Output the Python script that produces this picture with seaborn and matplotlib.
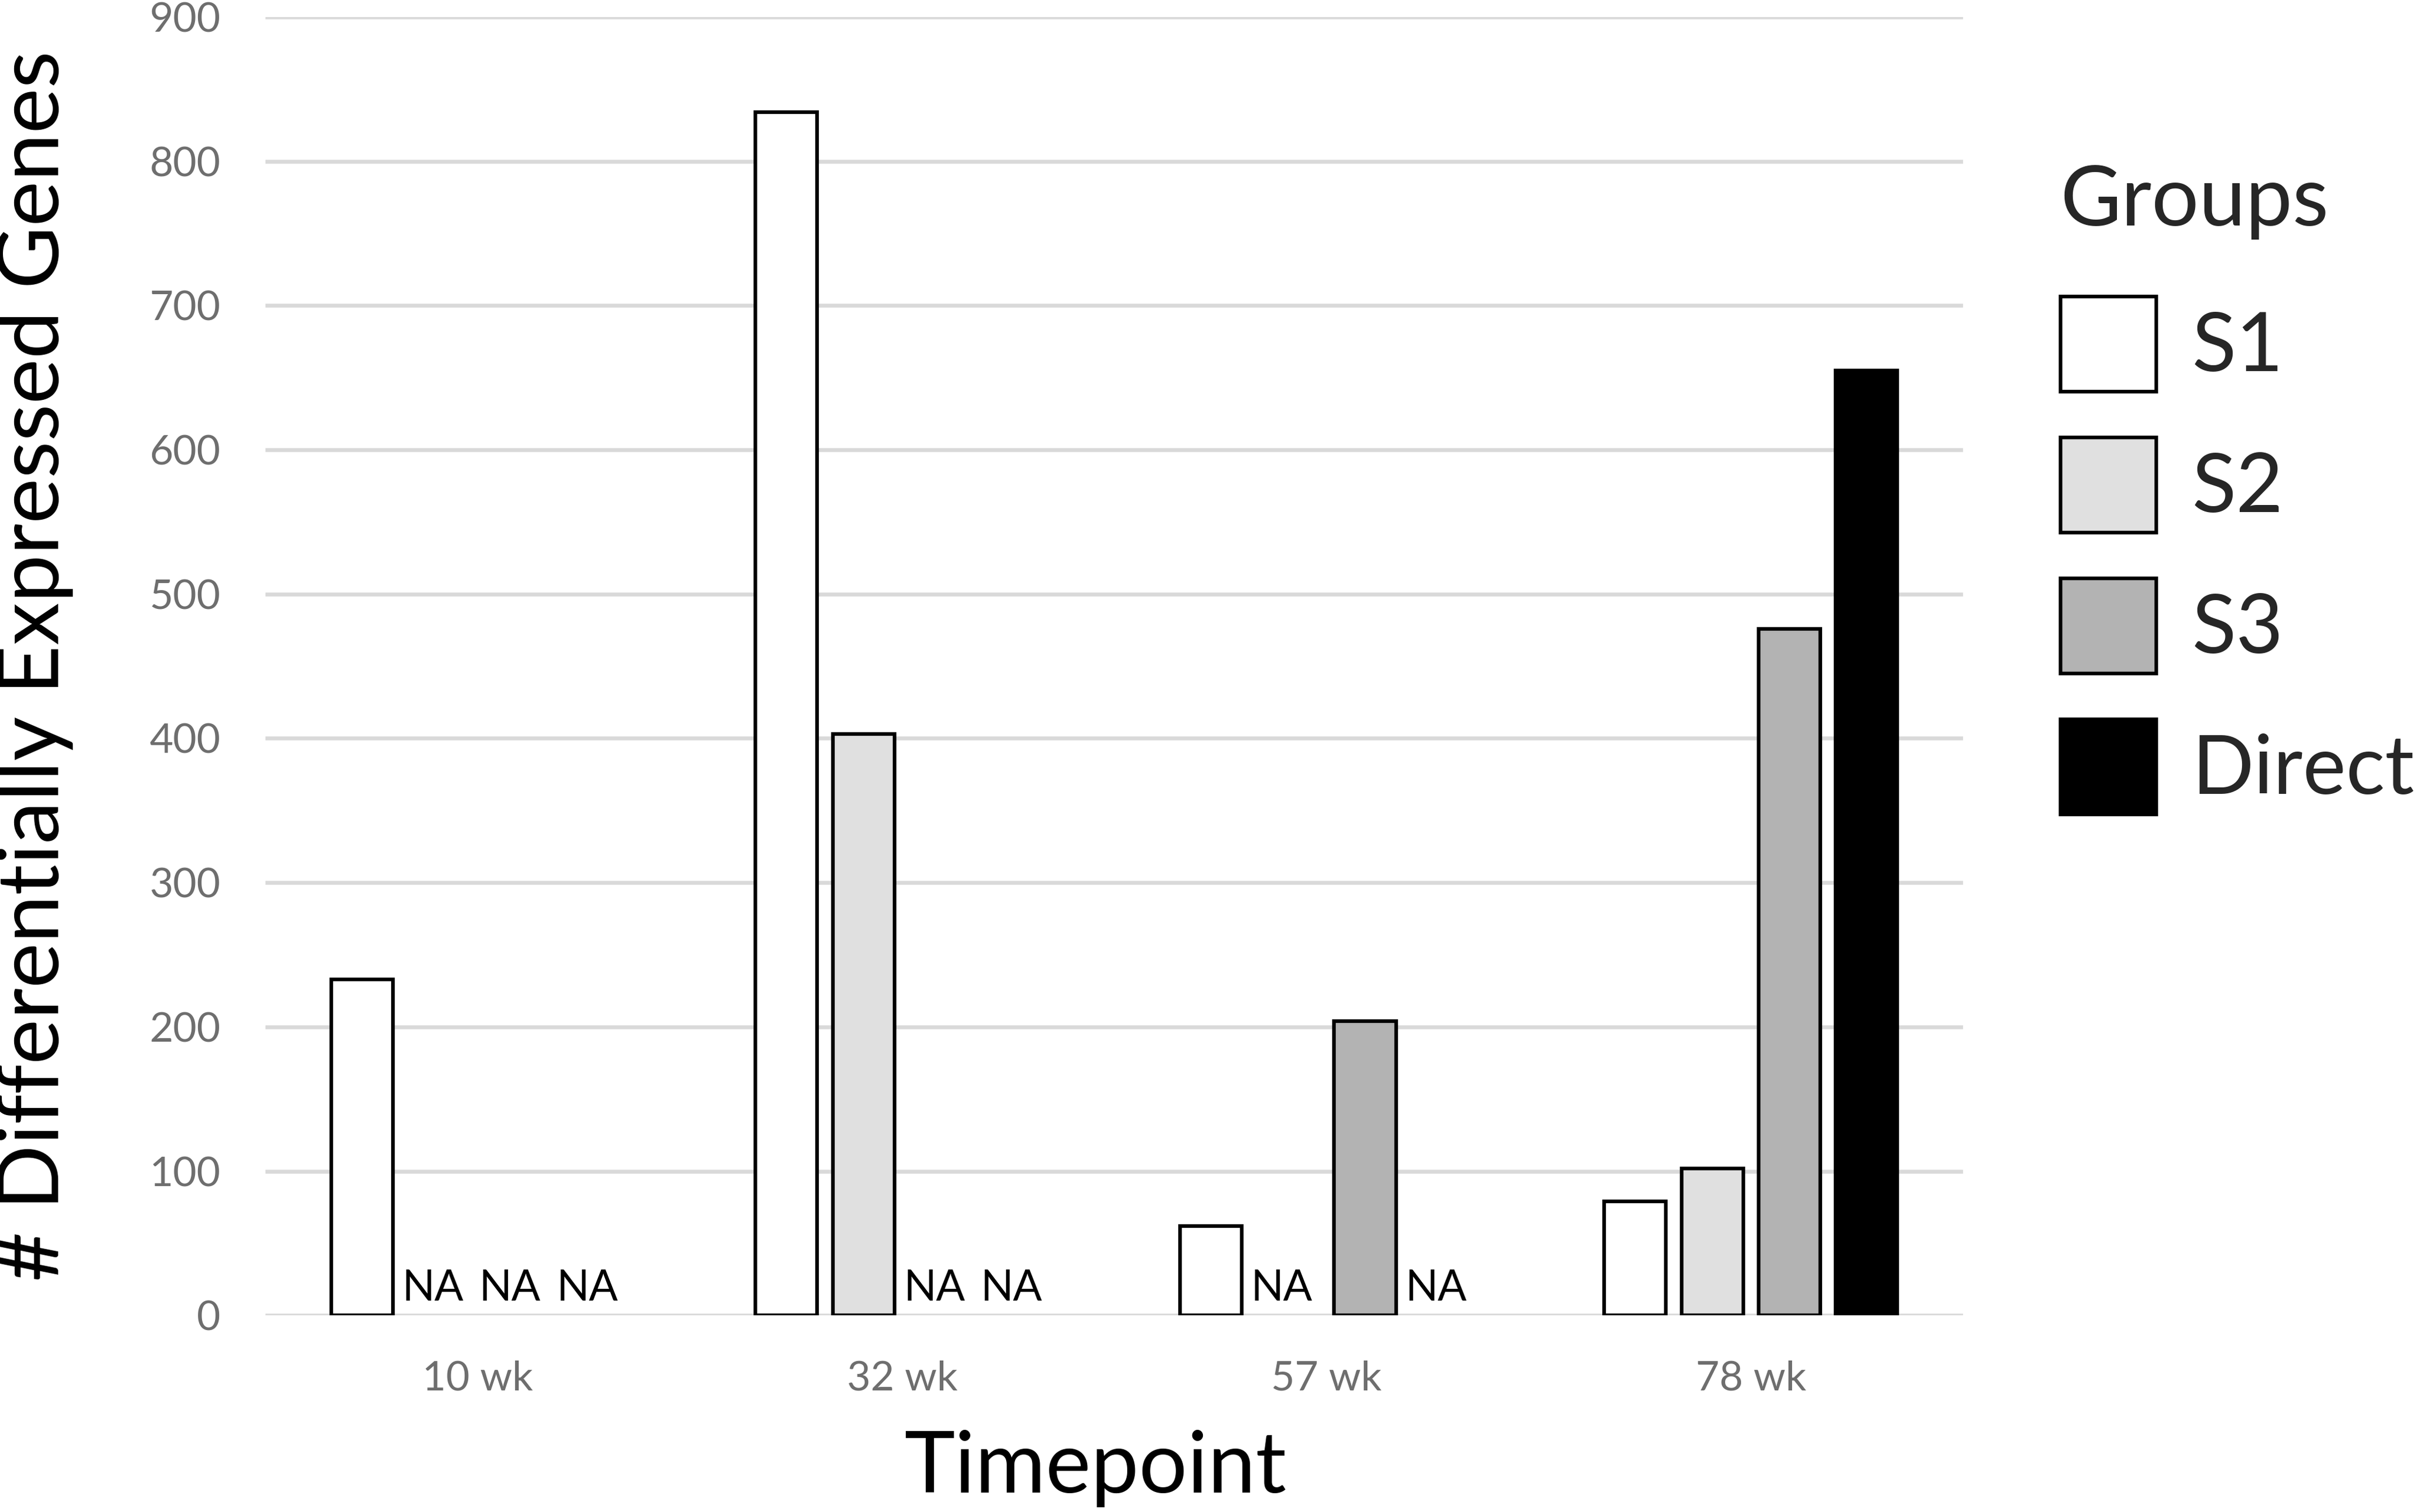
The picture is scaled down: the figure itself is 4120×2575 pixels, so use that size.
import numpy as np
import pandas as pd
import matplotlib
matplotlib.use("Agg")
import matplotlib.pyplot as plt
import seaborn as sns

# values (NaN = "NA")
timepoints = ["10 wk", "32 wk", "57 wk", "78 wk"]
groups = ["S1", "S2", "S3", "Direct"]
s1 = [233, 834, 62, 79]
s2 = [np.nan, 403, np.nan, 102]
s3 = [np.nan, np.nan, 204, 476]
direct = [np.nan, np.nan, np.nan, 655]
yticks = [0, 100, 200, 300, 400, 500, 600, 700, 800, 900]
colors = ["#ffffff", "#e0e0e0", "#b3b3b3", "#000000"]

df = pd.DataFrame({"Timepoint": timepoints, "S1": s1, "S2": s2, "S3": s3, "Direct": direct})
long_df = df.melt(id_vars="Timepoint", var_name="Group", value_name="Genes")

sns.set_theme(style="white")
plt.rcParams["font.family"] = ["Lato", "DejaVu Sans"]

fig = plt.figure(figsize=(16.48, 10.3), dpi=250)
ax = fig.add_axes([0.1097, 0.130, 0.7015, 0.8588])

width = 0.727
sns.barplot(data=long_df, x="Timepoint", y="Genes", hue="Group", order=timepoints,
            hue_order=groups, palette=dict(zip(groups, colors)), width=width, gap=0.2,
            edgecolor="black", linewidth=1.8, errorbar=None, ax=ax, legend=True, zorder=3)

# NA labels where a group has no value
slot = width / len(groups)
for i, tp in enumerate(timepoints):
    for j, g in enumerate(groups):
        v = df.loc[df["Timepoint"] == tp, g].iloc[0]
        if np.isnan(v):
            ax.text(i + (j - 1.5) * slot - 0.015, 5, "NA", ha="center", va="bottom",
                    fontsize=21, color="black")

ax.set_ylim(0, 900)
ax.set_yticks(yticks)
ax.set_xlim(-0.5, len(timepoints) - 0.5)
ax.grid(axis="y", color="#d9d9d9", linewidth=1.9, zorder=0)
ax.set_axisbelow(True)
for s in ax.spines.values():
    s.set_visible(False)
ax.tick_params(axis="both", length=0, labelsize=20, labelcolor="#6e6e6e")
ax.tick_params(axis="x", pad=22)
ax.tick_params(axis="y", pad=22)

ax.set_xlabel("Timepoint", fontsize=42, color="black")
ax.set_ylabel("# Differentially Expressed Genes", fontsize=42, color="black")
ax.xaxis.set_label_coords(0.489, -0.088)
ax.yaxis.set_label_coords(-0.113, 0.5)

handles, labels = ax.get_legend_handles_labels()
ax.get_legend().remove()
fs = 40
leg = fig.legend(handles, labels, title="Groups", loc="upper left",
                 bbox_to_anchor=(0.821, 0.94), frameon=False, fontsize=fs,
                 title_fontsize=41, handlelength=1.18, handleheight=1.42,
                 labelspacing=0.56, handletextpad=0.43, alignment="left")
# extra room between the title and the first entry
leg._legend_box.sep = 28

fig.savefig("out.png", dpi=250, facecolor="white")
